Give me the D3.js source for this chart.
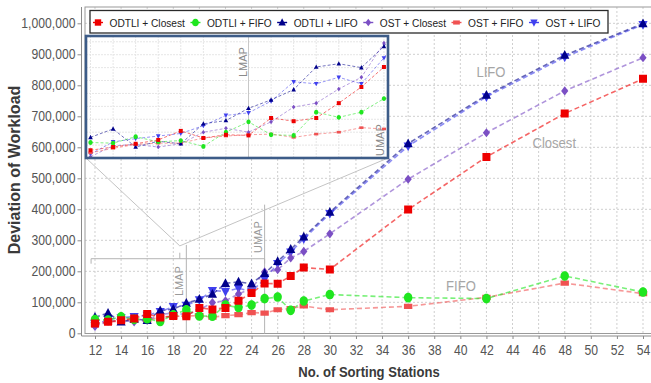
<!DOCTYPE html>
<html>
<head>
<meta charset="utf-8">
<script src="https://cdn.jsdelivr.net/npm/d3@7"></script>
<style>
  html, body { margin: 0; padding: 0; background: #fff; }
  svg { display: block; font-family: "Liberation Sans", Arial, sans-serif; }
</style>
</head>
<body>
<div id="chart"></div>
<script>
// number of sorting stations
const stations = [12, 13, 14, 15, 16, 17, 18, 19, 20, 21, 22, 23, 24, 25, 26, 27, 28, 30, 36, 42, 48, 54];

// deviation of workload (thousands)
const odtliClosest = [32, 37, 42, 48, 62, 51, 56, 55, 82, 77, 82, 105, 130, 161, 160, 185, 212, 206, 399, 569, 709, 821];
const odtliFifo = [44, 43, 53, 45, 47, 38, 60, 76, 56, 55, 91, 83, 91, 112, 117, 74, 104, 125, 115, 112, 185, 133];
const odtliLifo = [52, 65, 37, 46, 42, 73, 78, 97, 110, 126, 161, 166, 160, 193, 232, 271, 311, 391, 612, 768, 897, 999];
const ostClosest = [22, 39, 41, 37, 42, 60, 66, 60, 76, 99, 105, 127, 145, 198, 205, 243, 264, 321, 497, 647, 782, 889];
const ostFifo = [28, 35, 41, 43, 43, 51, 54, 56, 57, 52, 57, 60, 67, 65, 76, 80, 88, 76, 87, 116, 162, 128];
const ostLifo = [26, 45, 50, 54, 58, 70, 86, 90, 108, 138, 135, 145, 135, 175, 225, 262, 305, 386, 604, 763, 891, 996];

const seriesNames = ["ODTLI + Closest", "ODTLI + FIFO", "ODTLI + LIFO", "OST + Closest", "OST + FIFO", "OST + LIFO"];
const seriesValues = [odtliClosest, odtliFifo, odtliLifo, ostClosest, ostFifo, ostLifo];
const seriesColors = ["#ee0000", "#1fe61f", "#00008b", "#7b4fc4", "#f05252", "#4040ee"];
const seriesShapes = ["square", "blob", "up", "diamond", "bar", "down"];

const xTicks = d3.range(12, 55, 2);
const yTicks = d3.range(0, 1000001, 100000);
const insetYTicks = d3.range(40000, 200001, 20000);

const labels = [
  { text: "LIFO", x: 42.35, y: 826000 },
  { text: "Closest", x: 47.2, y: 597000 },
  { text: "FIFO", x: 40.05, y: 136000 }
];

const LMAP = 19, UMAP = 25;
const SQUASH = 0.87;

//
const W = 651, H = 383;
const plot = { l: 85, r: 651, t: 7, b: 333.5 };
const inset = { l: 86, r: 388, t: 36, b: 158 };

const series = seriesNames.map((name, i) => ({
  name,
  color: seriesColors[i],
  shape: seriesShapes[i],
  points: stations.map((s, j) => ({ x: s, y: seriesValues[i][j] * 1000 }))
}));

//
const x = d3.scaleLinear().domain([11.234, 54.613]).range([plot.l, plot.r]);
const y = d3.scaleLinear().domain([0, 1000000]).range([333.3, 23.3]);
const xi = d3.scaleLinear().domain([11.8, 25.18]).range([inset.l, inset.r]);
const yi = d3.scaleLinear().domain([20000, 209000]).range([inset.b, inset.t]);

function shapePath(shape, k) {
  const f = (v) => (v * k).toFixed(2);
  switch (shape) {
    case "square": return `M${f(-4)},${f(-4)}h${f(8)}v${f(8)}h${f(-8)}Z`;
    case "blob": return `M0,${f(-4.8)}C${f(2.8)},${f(-4.8)} ${f(4.2)},${f(-2.4)} ${f(4.2)},0C${f(4.2)},${f(2.6)} ${f(2.6)},${f(4.8)} 0,${f(4.8)}C${f(-2.6)},${f(4.8)} ${f(-4.2)},${f(2.6)} ${f(-4.2)},0C${f(-4.2)},${f(-2.4)} ${f(-2.8)},${f(-4.8)} 0,${f(-4.8)}Z`;
    case "up": return `M0,${f(-5.2)}L${f(4.6)},${f(3.6)}L${f(-4.6)},${f(3.6)}Z`;
    case "down": return `M0,${f(5.2)}L${f(4.6)},${f(-3.6)}L${f(-4.6)},${f(-3.6)}Z`;
    case "diamond": return `M0,${f(-4.6)}L${f(3.6)},0L0,${f(4.6)}L${f(-3.6)},0Z`;
    case "bar": return `M${f(-4.2)},${f(-2.6)}h${f(8.4)}v${f(5.2)}h${f(-8.4)}Z`;
  }
}

// narrow the text a little, the original is horizontally squeezed
function squash(sel) {
  sel.each(function () {
    const len = this.getComputedTextLength();
    this.setAttribute("textLength", len * SQUASH);
    this.setAttribute("lengthAdjust", "spacingAndGlyphs");
  });
}

const svg = d3.select("#chart").append("svg")
  .attr("width", W)
  .attr("height", H)
  .attr("viewBox", [0, 0, W, H]);

svg.append("rect").attr("width", W).attr("height", H).attr("fill", "#fff");

const defs = svg.append("defs");
defs.append("clipPath").attr("id", "clip-main").append("rect")
  .attr("x", plot.l).attr("y", plot.t)
  .attr("width", plot.r - plot.l).attr("height", plot.b - plot.t);
defs.append("clipPath").attr("id", "clip-inset").append("rect")
  .attr("x", inset.l).attr("y", inset.t)
  .attr("width", inset.r - inset.l).attr("height", inset.b - inset.t);

// grid
const grid = svg.append("g").attr("stroke", "#cfcfcf").attr("stroke-dasharray", "2,2");
grid.selectAll(".gx").data(xTicks).join("line")
  .attr("x1", (d) => x(d)).attr("x2", (d) => x(d))
  .attr("y1", plot.t).attr("y2", plot.b);
grid.selectAll(".gy").data(yTicks.slice(1)).join("line")
  .attr("x1", plot.l).attr("x2", plot.r)
  .attr("y1", (d) => y(d)).attr("y2", (d) => y(d));

// plot outline + axes
svg.append("rect")
  .attr("x", plot.l).attr("y", plot.t)
  .attr("width", plot.r - plot.l + 2).attr("height", plot.b - plot.t)
  .attr("fill", "none").attr("stroke", "#9a9a9a");

const ax = d3.axisBottom(x).tickValues(xTicks).tickSize(3).tickPadding(6);
const ay = d3.axisLeft(y).tickValues(yTicks).tickFormat(d3.format(",")).tickSize(4).tickPadding(2);

svg.append("g")
  .attr("transform", `translate(0,336)`)
  .call(ax)
  .call((g) => g.select(".domain").attr("d", `M81.5,0H${W}`).attr("stroke", "#8a8a8a"))
  .call((g) => g.selectAll(".tick line").attr("stroke", "#8a8a8a"))
  .call((g) => g.selectAll("text").attr("fill", "#555").attr("font-size", 14).attr("font-family", null).call(squash));

svg.append("g")
  .attr("transform", `translate(81.5,0)`)
  .call(ay)
  .call((g) => g.select(".domain").attr("d", `M0,${plot.t}V336`).attr("stroke", "#8a8a8a"))
  .call((g) => g.selectAll(".tick line").attr("stroke", "#8a8a8a"))
  .call((g) => g.selectAll("text").attr("fill", "#555").attr("font-size", 14).attr("font-family", null).call(squash));

// titles
svg.append("text")
  .attr("x", 369).attr("y", 377)
  .attr("text-anchor", "middle")
  .attr("font-size", 15).attr("font-weight", "bold").attr("fill", "#3a3a3a")
  .text("No. of Sorting Stations")
  .call(squash);

svg.append("text")
  .attr("transform", "translate(20,170) rotate(-90)")
  .attr("text-anchor", "middle")
  .attr("font-size", 16).attr("font-weight", "bold").attr("fill", "#3a3a3a")
  .text("Deviation of Workload");

// map markers
const annot = svg.append("g").attr("stroke", "#b4b4b4").attr("fill", "none");
annot.append("line")
  .attr("x1", x(LMAP)).attr("x2", x(LMAP))
  .attr("y1", y(285000)).attr("y2", plot.b);
annot.append("line")
  .attr("x1", x(UMAP)).attr("x2", x(UMAP))
  .attr("y1", y(415000)).attr("y2", plot.b);

svg.append("text")
  .attr("transform", `translate(${x(LMAP) - 3},296) rotate(-90)`)
  .attr("font-size", 11).attr("fill", "#9a9a9a")
  .text("LMAP");
svg.append("text")
  .attr("transform", `translate(${x(UMAP) - 3},253) rotate(-90)`)
  .attr("font-size", 11).attr("fill", "#9a9a9a")
  .text("UMAP");

// zoom bracket
const bx0 = x(11.7), bx1 = x(UMAP), bxm = x(18.5);
const by = y(240600), apexY = y(282000);
annot.append("path")
  .attr("d", `M${bx0},${by + 5}V${by}H${bx1}V${by + 5}M${bxm},${by}V${by - 6}`);
annot.append("path")
  .attr("d", `M${inset.l},${inset.b}L${bxm},${apexY}L${inset.r},${inset.b}`)
  .attr("stroke", "#c4c4c4");

// series lines
const lineMain = d3.line().x((d) => x(d.x)).y((d) => y(d.y));
const linesG = svg.append("g").attr("clip-path", "url(#clip-main)");
linesG.selectAll("path").data(series.slice().reverse()).join("path")
  .attr("d", (d) => lineMain(d.points))
  .attr("fill", "none")
  .attr("stroke", (d) => d.color)
  .attr("stroke-opacity", 0.6)
  .attr("stroke-width", 1.6)
  .attr("stroke-dasharray", "5,3");

// markers
const marksG = svg.append("g").attr("clip-path", "url(#clip-main)");
series.slice().reverse().forEach((s) => {
  marksG.append("g").selectAll("path").data(s.points).join("path")
    .attr("transform", (d) => `translate(${x(d.x)},${y(d.y)})`)
    .attr("d", shapePath(s.shape, 1))
    .attr("fill", s.color);
});

// text labels
svg.append("g").selectAll("text").data(labels).join("text")
  .attr("x", (d) => x(d.x)).attr("y", (d) => y(d.y))
  .attr("text-anchor", "middle")
  .attr("font-size", 15).attr("fill", "#a6a6a6")
  .text((d) => d.text)
  .call(squash);

// inset
const insetG = svg.append("g");
insetG.append("rect")
  .attr("x", inset.l).attr("y", inset.t)
  .attr("width", inset.r - inset.l).attr("height", inset.b - inset.t)
  .attr("fill", "#fff");

const igrid = insetG.append("g").attr("stroke", "#e6e6e6").attr("stroke-dasharray", "2,1");
igrid.selectAll(".ix").data(d3.range(12, 26)).join("line")
  .attr("x1", (d) => xi(d)).attr("x2", (d) => xi(d))
  .attr("y1", inset.t).attr("y2", inset.b);
igrid.selectAll(".iy").data(insetYTicks).join("line")
  .attr("x1", inset.l).attr("x2", inset.r)
  .attr("y1", (d) => yi(d)).attr("y2", (d) => yi(d));

insetG.append("line")
  .attr("x1", xi(LMAP)).attr("x2", xi(LMAP))
  .attr("y1", inset.t).attr("y2", inset.b)
  .attr("stroke", "#c8c8c8");
insetG.append("text")
  .attr("transform", `translate(${xi(LMAP) - 2},77) rotate(-90)`)
  .attr("font-size", 11).attr("fill", "#8a8a8a")
  .text("LMAP");
insetG.append("text")
  .attr("transform", `translate(${xi(UMAP)},156) rotate(-90)`)
  .attr("font-size", 11).attr("fill", "#8a8a8a")
  .text("UMAP");

const lineInset = d3.line().x((d) => xi(d.x)).y((d) => yi(d.y));
const ilines = insetG.append("g").attr("clip-path", "url(#clip-inset)");
ilines.selectAll("path").data(series.slice().reverse()).join("path")
  .attr("d", (d) => lineInset(d.points))
  .attr("fill", "none")
  .attr("stroke", (d) => d.color)
  .attr("stroke-opacity", 0.55)
  .attr("stroke-width", 1)
  .attr("stroke-dasharray", "3,2");

const imarks = insetG.append("g").attr("clip-path", "url(#clip-inset)");
series.slice().reverse().forEach((s) => {
  imarks.append("g").selectAll("path").data(s.points.filter((p) => p.x <= UMAP)).join("path")
    .attr("transform", (d) => `translate(${xi(d.x)},${yi(d.y)})`)
    .attr("d", shapePath(s.shape, 0.5))
    .attr("fill", s.color);
});

insetG.append("rect")
  .attr("x", inset.l).attr("y", inset.t)
  .attr("width", inset.r - inset.l).attr("height", inset.b - inset.t)
  .attr("fill", "none")
  .attr("stroke", "#3d5c88")
  .attr("stroke-width", 2.6);

// legend
const legend = svg.append("g");
legend.append("rect")
  .attr("x", 90).attr("y", 10.5).attr("width", 518).attr("height", 22.5)
  .attr("fill", "#fff").attr("stroke", "#2a2a2a").attr("stroke-width", 1.3);

let cursor = 98;
series.forEach((s) => {
  const it = legend.append("g");
  it.append("line")
    .attr("x1", cursor - 5).attr("x2", cursor + 5)
    .attr("y1", 22.5).attr("y2", 22.5)
    .attr("stroke", s.color).attr("stroke-width", 1.4);
  it.append("path")
    .attr("transform", `translate(${cursor},22.5)`)
    .attr("d", shapePath(s.shape, 0.8))
    .attr("fill", s.color);
  const t = it.append("text")
    .attr("x", cursor + 11.5).attr("y", 27)
    .attr("font-size", 11.7).attr("fill", "#222")
    .text(s.name)
    .call(squash);
  cursor = cursor + 11.5 + (+t.attr("textLength")) + 10.5;
});
</script>
</body>
</html>
